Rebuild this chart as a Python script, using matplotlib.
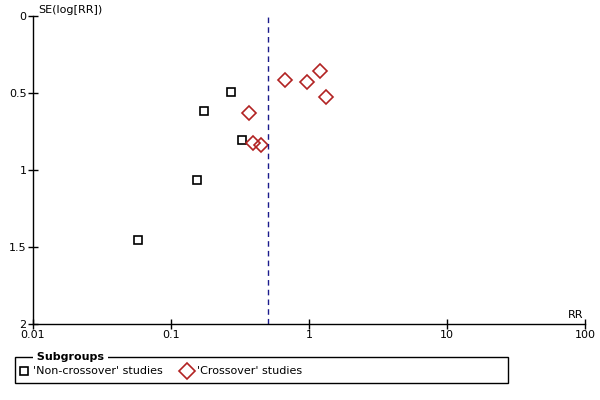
import matplotlib
matplotlib.use('Agg')
import matplotlib.pyplot as plt
from matplotlib.lines import Line2D
from matplotlib.patches import Rectangle

# funnel plot data: RR and SE(log[RR])
non_cross_rr = [0.272, 0.173, 0.327, 0.154, 0.058]
non_cross_se = [0.494, 0.617, 0.805, 1.065, 1.455]
cross_rr = [0.67, 0.96, 1.20, 1.32, 0.367, 0.39, 0.449]
cross_se = [0.416, 0.427, 0.357, 0.524, 0.632, 0.823, 0.838]
pooled_rr = 0.505

x_ticks = [0.01, 0.1, 1, 10, 100]
x_tick_labels = ['0.01', '0.1', '1', '10', '100']
y_ticks = [0, 0.5, 1, 1.5, 2]
y_tick_labels = ['0', '0.5', '1', '1.5', '2']

red = '#b22222'
fs = 8

fig = plt.figure(figsize=(6, 4), dpi=100, facecolor='white')
ax = fig.add_axes([0.055, 0.19, 0.92, 0.77])

ax.plot(non_cross_rr, non_cross_se, 's', ms=6.2, mfc='none', mec='black', mew=1.2, clip_on=False)
ax.plot(cross_rr, cross_se, 'D', ms=6.8, mfc='none', mec=red, mew=1.2, clip_on=False)
ax.axvline(pooled_rr, color='#1a1a8c', lw=1, ls=(0, (4, 3)))

ax.set_xscale('log')
ax.set_xlim(0.01, 100)
ax.set_ylim(2, 0)
ax.set_xticks(x_ticks)
ax.set_xticklabels(x_tick_labels)
ax.minorticks_off()
ax.set_yticks(y_ticks)
ax.set_yticklabels(y_tick_labels)
for s in ['top', 'right']:
	ax.spines[s].set_visible(False)
ax.spines['left'].set_linewidth(1)
ax.spines['bottom'].set_linewidth(1)
ax.tick_params(direction='inout', length=7, width=1, labelsize=fs, pad=1)

ax.text(0.009, 1.003, 'SE(log[RR])', transform=ax.transAxes, fontsize=fs, ha='left', va='bottom')
ax.text(0.997, 0.012, 'RR', transform=ax.transAxes, fontsize=fs, ha='right', va='bottom')

# legend box drawn by hand (title sits on the border)
fig.patches.append(Rectangle((15/600, 1-383/400), 493/600, 26/400, transform=fig.transFigure,
	fill=False, edgecolor='black', lw=1))
fig.text(33/600, 1-356.5/400, ' Subgroups ', fontsize=fs, fontweight='bold', ha='left', va='center',
	bbox=dict(facecolor='white', edgecolor='none', pad=0))
fig.lines.append(Line2D([24/600], [1-371/400], marker='s', ms=6.2, mfc='none', mec='black', mew=1.2,
	transform=fig.transFigure))
fig.text(33/600, 1-371/400, "'Non-crossover' studies", fontsize=fs, ha='left', va='center')
fig.lines.append(Line2D([187/600], [1-371/400], marker='D', ms=8.5, mfc='none', mec=red, mew=1.2,
	transform=fig.transFigure))
fig.text(197/600, 1-371/400, "'Crossover' studies", fontsize=fs, ha='left', va='center')

fig.savefig('out.png', dpi=100)
